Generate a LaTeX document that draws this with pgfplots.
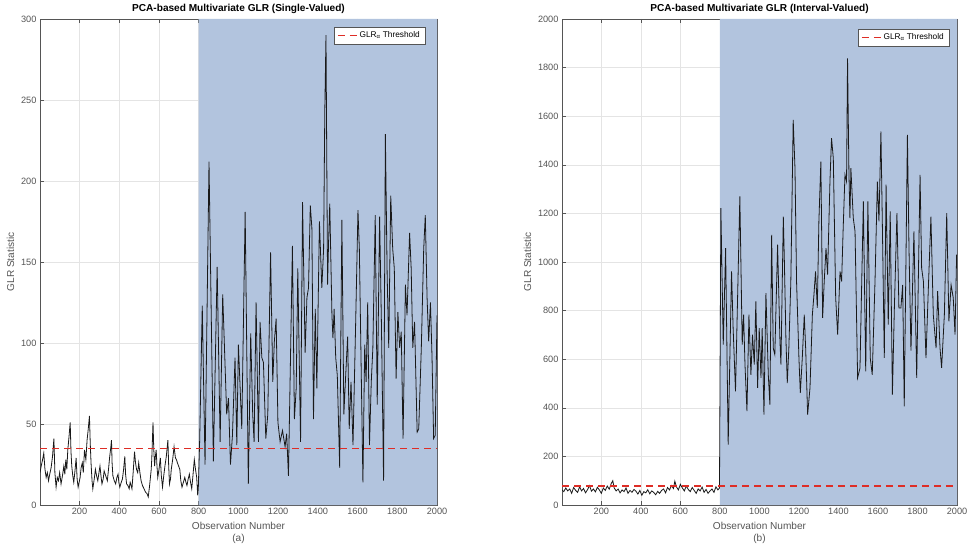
\documentclass[border=0pt]{standalone}
\usepackage{fontspec}
\setmainfont{Liberation Sans}
\usepackage{pgfplots}
\pgfplotsset{compat=1.18}

\definecolor{shade}{RGB}{178,196,222}
\definecolor{thr}{RGB}{222,45,38}
\definecolor{axgray}{RGB}{85,85,85}
\definecolor{gridgray}{RGB}{228,228,228}

\tikzset{thrline/.style={draw=thr, line width=1.4pt, dash pattern=on 7pt off 5pt}}

\pgfplotsset{
  glr/.style={
  scale only axis, anchor=south west,
  height=486pt,
  xmin=1, xmax=2000, xtick={200,400,...,2000},
  tick align=inside, major tick length=4pt,
  grid=major, grid style={gridgray, line width=0.5pt},
  axis line style={axgray, line width=0.6pt},
  tick style={axgray, line width=0.5pt},
  /pgf/number format/assume math mode=true,
  /pgf/number format/1000 sep={},
  scaled ticks=false,
  ticklabel style={font=\fontsize{9.2}{10}\selectfont, text=axgray},
  label style={font=\fontsize{10.1}{12}\selectfont, text=axgray},
  title style={font=\fontsize{10.1}{12}\selectfont\bfseries, yshift=-4pt},
  xlabel style={align=center},
  ylabel={GLR Statistic},
  legend style={font=\fontsize{8.3}{9}\selectfont, fill=white,
    inner xsep=3pt, inner ysep=2.5pt, anchor=north east, cells={anchor=west}},
  }}

\begin{document}
\begin{tikzpicture}
\useasboundingbox (0,0) rectangle (968pt,552pt);

% (a) single-valued
\begin{axis}[glr, at={(40pt,47pt)}, width=397pt,
  ymin=0, ymax=300, ytick={0,50,...,300},
  title={PCA-based Multivariate GLR (Single-Valued)},
  xlabel={Observation Number\\(a)},
  legend style={at={(1,1)}, xshift=-12pt, yshift=-8pt, draw=axgray}]
\addplot[fill=shade, draw=none, forget plot] coordinates {(800,0) (2000,0) (2000,300) (800,300)} \closedcycle;
\addplot[black!90, line width=0.8pt, forget plot] coordinates {
(1,20) (7,24) (14,28) (20,32) (26,22) (32,17) (38,20) (44,15) (50,19) (57,23) (64,30) (71,41) (76,20) (82,11) (88,17) (94,15) (100,20) (107,13) (114,18) (121,24) (126,19) (131,28) (136,22) (141,34) (147,42) (153,51) (157,33) (161,24) (166,18) (171,14) (177,21) (183,29) (188,16) (193,11) (198,14) (203,17) (208,23) (214,26) (219,20) (225,34) (232,28) (238,40) (244,47) (250,55) (254,38) (258,26) (263,15) (267,10) (274,16) (280,22) (286,18) (292,15) (298,20) (303,24) (308,18) (313,13) (319,16) (324,21) (332,18) (340,15) (346,22) (352,30) (357,35) (361,40) (364,26) (368,18) (375,15) (382,13) (388,17) (394,19) (398,14) (403,11) (410,14) (416,16) (422,22) (428,30) (432,19) (437,13) (444,12) (450,10) (455,14) (460,12) (464,10) (470,20) (477,33) (482,26) (487,22) (493,20) (498,26) (504,20) (510,15) (517,12) (525,10) (532,8) (540,7) (546,5) (552,11) (557,17) (561,22) (564,29) (567,40) (570,51) (574,34) (578,24) (582,30) (586,34) (590,24) (594,17) (600,22) (607,29) (612,18) (618,11) (624,18) (630,24) (637,30) (645,40) (649,24) (653,13) (658,16) (662,22) (669,28) (676,36) (680,32) (683,29) (688,28) (693,26) (699,24) (705,22) (710,15) (716,11) (723,14) (730,17) (736,14) (741,12) (747,16) (753,19) (759,14) (765,10) (771,18) (778,28) (784,22) (790,17) (795,6) (798,10)
(805,40) (818,123) (832,25) (852,212) (874,27) (893,147) (908,39) (921,130) (941,56) (950,66) (960,25) (970,43) (983,91) (992,37) (1000,99) (1017,47) (1034,181) (1050,13) (1062,106) (1072,56) (1079,39) (1089,125) (1101,39) (1109,113) (1118,91) (1126,88) (1138,41) (1148,56) (1162,156) (1173,76) (1181,101) (1190,115) (1199,51) (1210,39) (1222,46) (1235,36) (1243,44) (1252,18) (1272,160) (1282,53) (1291,72) (1299,146) (1313,39) (1323,187) (1336,94) (1345,128) (1353,134) (1362,185) (1370,171) (1378,53) (1387,121) (1395,72) (1408,175) (1420,134) (1429,158) (1435,243) (1441,290) (1449,136) (1454,162) (1460,186) (1471,117) (1476,103) (1482,121) (1490,91) (1498,80) (1510,23) (1521,176) (1531,56) (1541,82) (1550,104) (1558,47) (1567,76) (1577,37) (1590,110) (1602,182) (1609,158) (1627,14) (1636,99) (1643,76) (1651,125) (1660,37) (1669,76) (1677,97) (1689,179) (1699,62) (1711,178) (1720,113) (1731,15) (1740,229) (1749,142) (1757,97) (1767,191) (1777,158) (1785,146) (1794,78) (1803,119) (1812,97) (1820,107) (1829,41) (1841,136) (1849,117) (1862,168) (1870,146) (1878,97) (1887,113) (1900,45) (1908,47) (1921,97) (1933,158) (1941,179) (1950,128) (1958,101) (1967,125) (1975,91) (1983,41) (1991,43) (2000,117)
};
\addplot[thrline, legend image code/.code={\draw[thrline] (0pt,0pt) -- (19pt,0pt);}] coordinates {(1,35) (2000,35)};
\addlegendentry{GLR\textsubscript{α} Threshold}
\end{axis}

% (b) interval-valued
\begin{axis}[glr, at={(562pt,47pt)}, width=395pt,
  ymin=0, ymax=2000, ytick={0,200,...,2000},
  title={PCA-based Multivariate GLR (Interval-Valued)},
  xlabel={Observation Number\\(b)},
  legend style={at={(1,1)}, xshift=-8pt, yshift=-10pt, draw=axgray}]
\addplot[fill=shade, draw=none, forget plot] coordinates {(800,0) (2000,0) (2000,2000) (800,2000)} \closedcycle;
\addplot[black!90, line width=0.8pt, forget plot] coordinates {
(1,62) (10,55) (20,70) (30,58) (40,66) (50,48) (60,72) (70,60) (80,52) (90,75) (100,58) (110,68) (120,50) (130,63) (140,80) (150,57) (160,66) (170,54) (180,73) (190,62) (200,48) (210,70) (220,60) (230,78) (240,65) (250,88) (258,100) (265,70) (275,58) (285,66) (295,50) (305,62) (315,55) (325,70) (335,48) (345,60) (355,52) (365,64) (375,57) (385,45) (395,60) (405,40) (415,55) (425,50) (435,63) (445,46) (455,58) (465,52) (475,42) (485,56) (495,48) (505,60) (515,66) (525,50) (535,72) (545,62) (555,80) (565,68) (572,98) (580,75) (590,62) (600,85) (610,70) (620,58) (630,78) (640,64) (650,55) (660,72) (670,60) (680,48) (690,66) (700,58) (710,74) (720,52) (730,64) (740,48) (750,58) (760,66) (770,52) (780,75) (790,62) (798,70)
(805,1222) (817,660) (829,1057) (842,249) (859,961) (867,728) (879,468) (901,1270) (913,660) (920,783) (927,578) (937,386) (947,783) (957,536) (965,701) (974,578) (982,838) (991,482) (999,728) (1008,523) (1014,728) (1023,372) (1033,872) (1045,536) (1053,413) (1062,1112) (1070,646) (1078,619) (1092,1071) (1104,673) (1109,578) (1121,1187) (1126,1016) (1134,690) (1141,502) (1149,646) (1159,920) (1171,1585) (1180,1386) (1188,920) (1200,605) (1207,461) (1217,605) (1227,783) (1234,646) (1244,372) (1256,482) (1268,783) (1276,865) (1284,961) (1293,811) (1301,1167) (1311,1413) (1320,770) (1328,920) (1337,1057) (1345,948) (1357,1331) (1365,1510) (1374,1427) (1386,852) (1396,701) (1408,961) (1416,920) (1424,1140) (1433,1359) (1441,1331) (1446,1838) (1453,1372) (1458,1181) (1463,1386) (1475,1181) (1484,1126) (1497,523) (1509,564) (1526,1249) (1538,550) (1549,1249) (1561,605) (1571,536) (1585,920) (1597,1331) (1605,1167) (1615,1537) (1624,1057) (1632,605) (1641,1318) (1652,742) (1662,1208) (1673,454) (1683,811) (1696,1201) (1706,811) (1716,811) (1725,906) (1733,406) (1749,1523) (1757,1057) (1767,635) (1782,1126) (1796,523) (1813,1359) (1821,975) (1830,920) (1843,605) (1855,893) (1868,1187) (1880,783) (1894,646) (1902,880) (1914,646) (1922,564) (1936,783) (1948,1201) (1959,756) (1970,906) (1981,852) (1990,701) (1998,1030)
};
\addplot[thrline, legend image code/.code={\draw[thrline] (0pt,0pt) -- (19pt,0pt);}] coordinates {(1,78) (2000,78)};
\addlegendentry{GLR\textsubscript{α} Threshold}
\end{axis}
\end{tikzpicture}
\end{document}
